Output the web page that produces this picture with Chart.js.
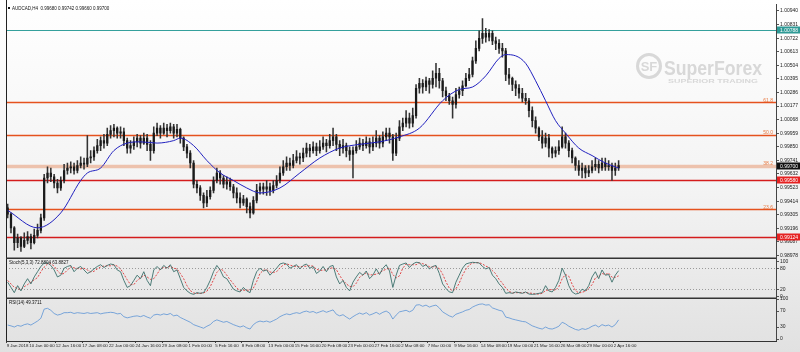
<!DOCTYPE html>
<html><head><meta charset="utf-8">
<script src="https://cdn.jsdelivr.net/npm/chart.js@4.4.1/dist/chart.umd.min.js"></script>
<style>html,body{margin:0;padding:0;background:#fff;overflow:hidden}canvas{display:block}</style>
</head><body>
<canvas id="c" width="800" height="352"></canvas>
<script>
const symbolTitle = 'AUDCAD,H4  0.99680 0.99742 0.99660 0.99700';
const stochTitle = 'Stoch(5,3,3) 72.8804 63.8827';
const rsiTitle = 'RSI(14) 49.3711';

const opens = [
0.9936,0.9931,0.9920,0.9908,0.9912,0.9905,0.9910,0.9913,0.9908,0.9914,
0.9918,0.9928,0.9960,0.9964,0.9961,0.9956,0.9952,0.9958,0.9966,0.9968,
0.9969,0.9966,0.9970,0.9972,0.9971,0.9976,0.9977,0.9982,0.9986,0.9990,
0.9988,0.9995,0.9998,1.0000,0.9996,0.9997,0.9990,0.9984,0.9986,0.9989,
0.9992,0.9988,0.9992,0.9987,0.9982,0.9996,1.0000,0.9996,1.0000,0.9998,
1.0001,0.9996,0.9999,0.9992,0.9985,0.9980,0.9972,0.9955,0.9952,0.9946,
0.9940,0.9945,0.9950,0.9958,0.9964,0.9960,0.9955,0.9957,0.9953,0.9948,
0.9944,0.9940,0.9943,0.9937,0.9932,0.9942,0.9950,0.9953,0.9951,0.9953,
0.9950,0.9954,0.9958,0.9964,0.9969,0.9972,0.9970,0.9974,0.9977,0.9976,
0.9980,0.9984,0.9982,0.9985,0.9982,0.9985,0.9988,0.9986,0.9990,0.9993,
0.9987,0.9984,0.9986,0.9982,0.9979,0.9982,0.9985,0.9988,0.9986,0.9989,
0.9985,0.9988,0.9992,0.9988,0.9993,0.9996,0.9993,0.9980,0.9992,1.0001,
1.0004,1.0008,1.0004,1.0010,1.0032,1.0036,1.0033,1.0038,1.0035,1.0040,
1.0044,1.0038,1.0030,1.0026,1.0022,1.0019,1.0027,1.0030,1.0034,1.0040,
1.0043,1.0054,1.0064,1.0072,1.0076,1.0073,1.0076,1.0070,1.0068,1.0064,
1.0062,1.0043,1.0040,1.0035,1.0032,1.0028,1.0024,1.0022,1.0014,1.0006,
1.0000,0.9993,0.9988,0.9992,0.9984,0.9980,0.9982,0.9985,0.9993,0.9988,
0.9982,0.9976,0.9970,0.9966,0.9968,0.9964,0.9966,0.9969,0.9971,0.9968,
0.9972,0.9969,0.9970,0.9966,0.9968];
const highs = [
0.9939,0.9932,0.9921,0.9915,0.9913,0.9916,0.9917,0.9915,0.9919,0.9923,
0.9931,0.9963,0.9969,0.9968,0.9963,0.9959,0.9961,0.9971,0.9972,0.9973,
0.9972,0.9974,0.9977,0.9976,0.9994,0.9982,0.9985,0.9991,0.9993,0.9995,
1.0000,1.0002,1.0003,1.0001,1.0001,1.0000,0.9992,0.9990,0.9993,0.9995,
0.9994,0.9996,0.9995,0.9990,1.0001,1.0004,1.0002,1.0004,1.0003,1.0004,
1.0003,1.0003,1.0000,0.9993,0.9987,0.9982,0.9974,0.9958,0.9954,0.9948,
0.9950,0.9953,0.9961,0.9968,0.9966,0.9962,0.9961,0.9960,0.9955,0.9952,
0.9948,0.9946,0.9944,0.9940,0.9945,0.9955,0.9956,0.9956,0.9958,0.9956,
0.9958,0.9962,0.9969,0.9974,0.9977,0.9976,0.9979,0.9982,0.9980,0.9984,
0.9988,0.9987,0.9989,0.9988,0.9990,0.9993,0.9991,0.9995,1.0000,0.9995,
0.9990,0.9991,0.9988,0.9985,0.9985,0.9990,0.9992,0.9991,0.9993,0.9992,
0.9993,0.9998,0.9994,0.9997,1.0000,1.0000,0.9995,0.9996,1.0006,1.0008,
1.0014,1.0012,1.0016,1.0035,1.0040,1.0039,1.0041,1.0040,1.0046,1.0052,
1.0048,1.0040,1.0033,1.0028,1.0025,1.0032,1.0033,1.0038,1.0044,1.0048,
1.0057,1.0070,1.0078,1.0088,1.0080,1.0079,1.0078,1.0073,1.0071,1.0068,
1.0064,1.0048,1.0041,1.0038,1.0035,1.0032,1.0028,1.0024,1.0017,1.0009,
1.0001,0.9998,0.9996,0.9995,0.9985,0.9985,0.9990,1.0001,0.9996,0.9990,
0.9984,0.9977,0.9974,0.9972,0.9970,0.9970,0.9974,0.9976,0.9974,0.9976,
0.9976,0.9974,0.9972,0.9972,0.9974];
const lows = [
0.9928,0.9916,0.9902,0.9904,0.9901,0.9904,0.9907,0.9903,0.9907,0.9912,
0.9916,0.9926,0.9956,0.9957,0.9952,0.9948,0.9950,0.9956,0.9963,0.9964,
0.9963,0.9964,0.9968,0.9967,0.9969,0.9972,0.9974,0.9980,0.9982,0.9984,
0.9986,0.9992,0.9993,0.9992,0.9992,0.9986,0.9980,0.9980,0.9983,0.9985,
0.9984,0.9987,0.9982,0.9974,0.9980,0.9994,0.9992,0.9995,0.9993,0.9996,
0.9992,0.9993,0.9988,0.9982,0.9976,0.9968,0.9952,0.9948,0.9942,0.9936,
0.9937,0.9943,0.9948,0.9956,0.9955,0.9952,0.9951,0.9950,0.9944,0.9940,
0.9936,0.9938,0.9932,0.9928,0.9931,0.9940,0.9947,0.9947,0.9946,0.9946,
0.9948,0.9952,0.9956,0.9962,0.9966,0.9966,0.9968,0.9972,0.9971,0.9973,
0.9977,0.9977,0.9980,0.9978,0.9980,0.9983,0.9981,0.9984,0.9986,0.9982,
0.9978,0.9980,0.9977,0.9974,0.9960,0.9980,0.9983,0.9982,0.9984,0.9980,
0.9982,0.9985,0.9984,0.9985,0.9990,0.9988,0.9974,0.9978,0.9990,0.9998,
1.0001,1.0000,1.0001,1.0008,1.0028,1.0028,1.0030,1.0028,1.0032,1.0033,
1.0032,1.0025,1.0022,1.0019,1.0008,1.0016,1.0024,1.0026,1.0033,1.0038,
1.0041,1.0052,1.0062,1.0068,1.0069,1.0070,1.0067,1.0063,1.0060,1.0057,
1.0038,1.0035,1.0030,1.0026,1.0024,1.0021,1.0019,1.0009,1.0001,0.9996,
0.9990,0.9984,0.9985,0.9977,0.9976,0.9977,0.9979,0.9984,0.9984,0.9977,
0.9972,0.9966,0.9962,0.9960,0.9960,0.9961,0.9964,0.9966,0.9964,0.9966,
0.9966,0.9966,0.9958,0.9962,0.9966];
const closes = [
0.9931,0.9920,0.9908,0.9912,0.9905,0.9910,0.9913,0.9908,0.9914,0.9918,
0.9928,0.9960,0.9964,0.9961,0.9956,0.9952,0.9958,0.9966,0.9968,0.9969,
0.9966,0.9970,0.9972,0.9971,0.9976,0.9977,0.9982,0.9986,0.9990,0.9988,
0.9995,0.9998,1.0000,0.9996,0.9997,0.9990,0.9984,0.9986,0.9989,0.9992,
0.9988,0.9992,0.9987,0.9982,0.9996,1.0000,0.9996,1.0000,0.9998,1.0001,
0.9996,0.9999,0.9992,0.9985,0.9980,0.9972,0.9955,0.9952,0.9946,0.9940,
0.9945,0.9950,0.9958,0.9964,0.9960,0.9955,0.9957,0.9953,0.9948,0.9944,
0.9940,0.9943,0.9937,0.9932,0.9942,0.9950,0.9953,0.9951,0.9953,0.9950,
0.9954,0.9958,0.9964,0.9969,0.9972,0.9970,0.9974,0.9977,0.9976,0.9980,
0.9984,0.9982,0.9985,0.9982,0.9985,0.9988,0.9986,0.9990,0.9993,0.9987,
0.9984,0.9986,0.9982,0.9979,0.9982,0.9985,0.9988,0.9986,0.9989,0.9985,
0.9988,0.9992,0.9988,0.9993,0.9996,0.9993,0.9980,0.9992,1.0001,1.0004,
1.0008,1.0004,1.0010,1.0032,1.0036,1.0033,1.0038,1.0035,1.0040,1.0044,
1.0038,1.0030,1.0026,1.0022,1.0019,1.0027,1.0030,1.0034,1.0040,1.0043,
1.0054,1.0064,1.0072,1.0076,1.0073,1.0076,1.0070,1.0068,1.0064,1.0062,
1.0043,1.0040,1.0035,1.0032,1.0028,1.0024,1.0022,1.0014,1.0006,1.0000,
0.9993,0.9988,0.9992,0.9984,0.9980,0.9982,0.9985,0.9993,0.9988,0.9982,
0.9976,0.9970,0.9966,0.9968,0.9964,0.9966,0.9969,0.9971,0.9968,0.9972,
0.9969,0.9970,0.9966,0.9968,0.9970];

const maIndex = [0,9,16,22,24,28,32,36,40,45,50,52,56,60,64,68,72,76,82,88,94,100,106,112,118,124,131,136,140,144,148,150,153,156,159,162,165,168,172,176,180,184];
const maValues = [0.9934,0.9920,0.9932,0.9958,0.9964,0.9968,0.9982,0.9988,0.9989,0.9988,0.9990,0.9992,0.9986,0.9974,0.9964,0.9958,0.9952,0.9948,0.9952,0.9964,0.9976,0.9984,0.9987,0.9989,0.9993,1.0000,1.0022,1.0031,1.0033,1.0042,1.0056,1.0059,1.0058,1.0052,1.0038,1.0022,1.0006,0.9996,0.9984,0.9978,0.9972,0.9968];

const stochMain = [
40,25,10,30,15,35,50,35,55,70,
85,95,95,88,75,55,60,80,85,88,
70,80,85,75,65,70,78,85,90,82,
88,92,90,75,70,45,25,30,45,60,
50,70,45,30,75,85,75,88,80,90,
70,75,50,25,15,8,5,10,8,10,
25,45,70,88,75,55,50,35,20,15,
12,25,15,10,45,70,80,72,75,60,
70,80,92,95,92,80,85,90,78,88,
92,80,85,65,72,85,70,85,88,55,
35,45,25,15,40,55,68,60,72,50,
60,78,62,80,90,72,25,60,88,92,
95,82,92,97,96,85,90,78,85,88,
65,35,22,12,10,40,60,80,92,95,
97,96,95,85,78,82,60,50,35,25,
8,10,8,12,10,8,12,6,5,6,
8,10,30,15,12,25,45,80,60,30,
12,6,8,20,15,30,55,70,50,75,
60,62,40,60,73];
const stochSignal = [
45,35,25,22,18,27,33,40,47,53,
70,83,92,93,86,73,63,65,75,84,
81,79,78,80,75,70,71,78,84,86,
87,87,90,86,78,63,47,33,33,45,
52,60,55,48,50,63,78,83,81,86,
80,78,65,50,30,16,9,8,8,9,
14,27,47,68,78,73,60,47,35,23,
16,17,17,17,23,42,65,74,76,69,
68,70,81,89,93,89,86,85,84,85,
86,87,86,77,74,74,76,80,81,76,
59,45,35,28,27,37,54,61,67,61,
61,63,67,73,77,81,62,52,58,80,
92,90,90,90,95,93,90,84,84,84,
79,63,41,23,15,21,37,60,77,89,
95,96,96,92,86,82,73,64,48,37,
23,14,9,10,10,10,10,9,8,6,
6,8,16,18,19,17,27,50,62,57,
34,16,9,11,14,22,33,52,58,65,
62,66,54,54,58];
const rsiValues = [
35,33,30,34,32,36,38,35,40,45,
52,75,77,72,64,60,62,66,66,67,
64,66,65,64,66,64,65,66,63,65,
66,67,66,63,64,56,53,55,57,58,
56,59,55,52,60,62,60,63,61,64,
58,60,54,50,46,42,36,33,30,27,
32,36,44,48,45,42,44,40,36,33,
30,33,28,25,36,42,45,43,45,42,
46,50,56,60,63,61,64,66,64,68,
70,67,69,65,68,71,67,70,73,62,
58,61,55,50,56,61,65,62,66,60,
63,67,62,67,70,65,50,60,68,70,
72,68,72,85,86,82,85,80,83,85,
78,68,63,58,55,62,65,68,72,74,
80,84,87,88,85,86,78,75,72,70,
55,53,50,48,46,44,43,38,33,30,
27,25,30,26,25,28,32,42,38,32,
28,24,22,26,24,27,32,35,30,36,
33,35,30,36,48];

const timeTickIndex = [-0.3,6.5,14.5,22.5,30.5,38.5,46.5,54.5,62.5,70.5,78.5,86.5,94.5,102.5,110.5,118.5,126.5,134.5,142.5,150.5,158.5,166.5,174.5,182.5];
const timeTickLabels = ['9 Jan 2018','10 Jan 00:00','12 Jan 16:00','17 Jan 08:00','22 Jan 00:00','24 Jan 16:00','29 Jan 08:00','1 Feb 00:00','5 Feb 16:00','8 Feb 08:00','13 Feb 00:00','15 Feb 16:00','20 Feb 08:00','23 Feb 00:00','27 Feb 16:00','2 Mar 08:00','7 Mar 00:00','9 Mar 16:00','14 Mar 08:00','19 Mar 00:00','21 Mar 16:00','26 Mar 08:00','29 Mar 00:00','2 Apr 16:00'];
const priceTicks = [1.00940,1.00831,1.00722,1.00613,1.00504,1.00395,1.00286,1.00177,1.00068,0.99959,0.99850,0.99741,0.99632,0.99523,0.99414,0.99305,0.99196,0.99087,0.98978];
const stochTicks = [0,20,80,100];
const rsiTicks = [0,30,70,100];

const levelPrices = [1.00788,1.00212,0.99948,0.99700,0.99580,0.99348,0.99124];
const levelNames = ['','61.8','50.0','38.2','','23.6',''];
const tagPrices = [1.00788,0.99700,0.99580,0.99124];

// styles (kept separate from data)
const levelStyle = [
  {c:'#35a09c',w:1.2},{c:'#e5521e',w:1.3},{c:'#e5521e',w:1.3},{c:'rgba(232,160,125,0.6)',w:3.5},
  {c:'#d41c1c',w:1.6},{c:'#e5521e',w:1.3},{c:'#d41c1c',w:1.6}];
const tagColors = ['#2f9a96','#111111','#e52222','#e52222'];
const FONT = '"Liberation Sans", Arial, sans-serif';

function fitText(ctx, t, x, y, w) {
  const m = ctx.measureText(t).width;
  ctx.save(); ctx.translate(x, y); ctx.scale(w / m, 1); ctx.fillText(t, 0, 0); ctx.restore();
}

const decor = {
  id: 'decor',
  beforeDraw(chart) {
    const {ctx} = chart;
    ctx.save();
    const g = ctx.createLinearGradient(0, 0, 0, 352);
    g.addColorStop(0, '#ffffff');
    g.addColorStop(0.55, '#f3f3f3');
    g.addColorStop(1, '#e1e1e1');
    ctx.fillStyle = g;
    ctx.fillRect(0, 0, 800, 352);
    // watermark
    ctx.strokeStyle = '#d8d8d8'; ctx.lineWidth = 3;
    ctx.beginPath(); ctx.arc(649, 66, 11.5, 0, Math.PI * 2); ctx.stroke();
    ctx.fillStyle = '#d8d8d8';
    ctx.font = 'bold 13px ' + FONT; ctx.textAlign = 'center'; ctx.textBaseline = 'middle';
    ctx.fillText('SF', 649, 67);
    ctx.textAlign = 'left'; ctx.textBaseline = 'alphabetic';
    ctx.font = 'bold 20px ' + FONT;
    fitText(ctx, 'SuperForex', 664, 75, 98);
    ctx.font = 'bold 6px ' + FONT;
    fitText(ctx, 'SUPERIOR TRADING', 668, 83, 90);
    ctx.restore();
  },
  beforeDatasetsDraw(chart) {
    const {ctx, chartArea: a} = chart;
    const ys = chart.scales.yMain, st = chart.scales.yStoch;
    ctx.save();
    levelPrices.forEach((p, i) => {
      const y = Math.round(ys.getPixelForValue(p)) + 0.5;
      ctx.strokeStyle = levelStyle[i].c; ctx.lineWidth = levelStyle[i].w;
      ctx.beginPath(); ctx.moveTo(a.left, y); ctx.lineTo(a.right, y); ctx.stroke();
    });
    ctx.strokeStyle = '#9a9a9a'; ctx.lineWidth = 1; ctx.setLineDash([1, 2]);
    [80, 20].forEach(v => {
      const y = Math.round(st.getPixelForValue(v)) + 0.5;
      ctx.beginPath(); ctx.moveTo(a.left, y); ctx.lineTo(a.right, y); ctx.stroke();
    });
    ctx.restore();
  },
  afterDraw(chart) {
    const {ctx, chartArea: a} = chart;
    const ys = chart.scales.yMain, st = chart.scales.yStoch;
    ctx.save();
    ctx.strokeStyle = '#222'; ctx.lineWidth = 1;
    ctx.beginPath(); ctx.moveTo(a.left + 0.5, 0); ctx.lineTo(a.left + 0.5, a.bottom); ctx.stroke();
    ctx.lineWidth = 1.5; ctx.strokeStyle = '#333';
    [st.top, st.bottom].forEach(y => {
      ctx.beginPath(); ctx.moveTo(a.left, y); ctx.lineTo(a.right, y); ctx.stroke();
    });
    ctx.font = '5px ' + FONT; ctx.textAlign = 'right'; ctx.textBaseline = 'bottom';
    ctx.fillStyle = '#e8783f';
    levelPrices.forEach((p, i) => {
      if (!levelNames[i]) return;
      ctx.fillText(levelNames[i], a.right - 3, ys.getPixelForValue(p) + 1);
    });
    ctx.textAlign = 'left'; ctx.textBaseline = 'middle';
    tagPrices.forEach((p, i) => {
      const y = Math.round(ys.getPixelForValue(p));
      ctx.fillStyle = tagColors[i];
      ctx.fillRect(a.right + 1, y - 3.5, 23, 7);
      ctx.fillStyle = '#fff';
      ctx.fillText(p.toFixed(5), a.right + 4, y + 0.5);
    });
    ctx.fillStyle = '#111';
    ctx.font = '4.5px ' + FONT;
    ctx.fillRect(8, 7, 2, 2);
    ctx.fillText(symbolTitle, 12, 8.5);
    ctx.fillText(stochTitle, 9, st.top + 5);
    ctx.fillText(rsiTitle, 9, chart.scales.yRsi.top + 5);
    ctx.restore();
  }
};

const tickFont = {size: 5, family: FONT};
function yAxis(id, weight, sw, min, max, ticksArr, fmt) {
  return {
    type: 'linear', position: 'right', stack: 'ys', stackWeight: sw, weight: weight,
    min: min, max: max, bounds: 'data', offset: false,
    afterBuildTicks: s => { s.ticks = ticksArr.map(v => ({value: v})); },
    afterFit: s => { s.width = 24; },
    ticks: {font: tickFont, color: '#222', padding: 1, autoSkip: false, callback: fmt},
    grid: {drawOnChartArea: false, drawTicks: true, tickLength: 3, color: '#555'},
    border: {display: true, color: '#444', width: 1}
  };
}

new Chart(document.getElementById('c'), {
  type: 'bar',
  data: {
    datasets: [
      {type: 'line', label: 'MA', data: maIndex.map((j, k) => ({x: j, y: maValues[k]})),
       yAxisID: 'yMain', borderColor: '#2222c0', borderWidth: 1, pointRadius: 0,
       cubicInterpolationMode: 'monotone', order: 0},
      {label: 'body', data: opens.map((o, i) => ({x: i, y: [o, closes[i]]})),
       yAxisID: 'yMain', backgroundColor: '#1a1a1a', barThickness: 1.6, minBarLength: 1,
       grouped: false, order: 1},
      {label: 'wick', data: highs.map((h, i) => ({x: i, y: [lows[i], h]})),
       yAxisID: 'yMain', backgroundColor: '#333', barThickness: 0.9,
       grouped: false, order: 2},
      {type: 'line', label: 'K', data: stochMain.map((v, i) => ({x: i, y: v})),
       yAxisID: 'yStoch', borderColor: '#3b6f6b', borderWidth: 0.9, pointRadius: 0, order: 0},
      {type: 'line', label: 'D', data: stochSignal.map((v, i) => ({x: i, y: v})),
       yAxisID: 'yStoch', borderColor: '#e03535', borderWidth: 0.9, borderDash: [2, 1.5],
       pointRadius: 0, order: 0},
      {type: 'line', label: 'RSI', data: rsiValues.map((v, i) => ({x: i, y: v})),
       yAxisID: 'yRsi', borderColor: '#5a93d6', borderWidth: 0.8, pointRadius: 0, order: 0}
    ]
  },
  options: {
    responsive: false, animation: false, devicePixelRatio: 1,
    layout: {padding: {left: 6, top: 3, right: 0, bottom: 0}},
    plugins: {legend: {display: false}, tooltip: {enabled: false}},
    scales: {
      x: {
        type: 'linear', position: 'bottom', min: -0.5, max: 231.4, offset: false, bounds: 'data',
        afterBuildTicks: s => { s.ticks = timeTickIndex.map(v => ({value: v})); },
        afterFit: s => { s.height = 11; },
        ticks: {font: {size: 4.4, family: FONT}, color: '#222', padding: 0, autoSkip: false, maxRotation: 0,
                minRotation: 0, align: 'start', callback: (v, i) => timeTickLabels[i]},
        grid: {drawOnChartArea: false, drawTicks: true, tickLength: 2, color: '#444', offset: false},
        border: {display: true, color: '#333'}
      },
      yMain: yAxis('yMain', 1, 255, 0.98956, 1.00996, priceTicks, v => v.toFixed(5)),
      yStoch: yAxis('yStoch', 2, 40, -5.71, 108.57, stochTicks, v => String(v)),
      yRsi: yAxis('yRsi', 3, 43, -5, 102.5, rsiTicks, v => String(v))
    }
  },
  plugins: [decor]
});
</script>
</body></html>
